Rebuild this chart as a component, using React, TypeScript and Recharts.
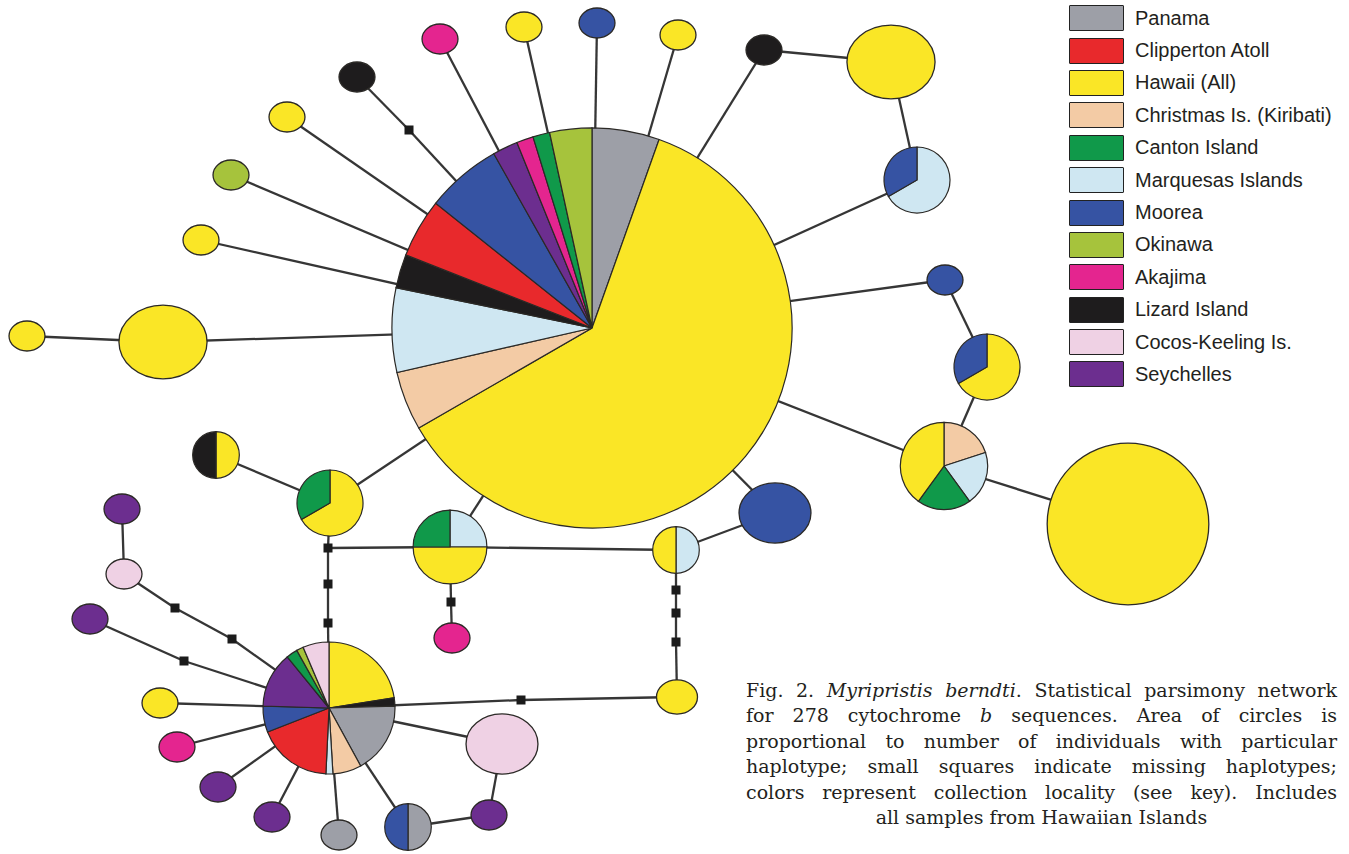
import React from 'react';
import { ScatterChart, Scatter, XAxis, YAxis, Legend, Sector } from 'recharts';

// collection localities (legend order)
const localityKeys = ['PAN', 'CLI', 'HAW', 'CHR', 'CAN', 'MAR', 'MOO', 'OKI', 'AKA', 'LIZ', 'COC', 'SEY'];
const localityLabels = [
  'Panama',
  'Clipperton Atoll',
  'Hawaii (All)',
  'Christmas Is. (Kiribati)',
  'Canton Island',
  'Marquesas Islands',
  'Moorea',
  'Okinawa',
  'Akajima',
  'Lizard Island',
  'Cocos-Keeling Is.',
  'Seychelles',
];
const localityColors = [
  '#9d9fa7', '#e8292c', '#fae626', '#f3cba5', '#10994a', '#cfe7f2',
  '#3653a3', '#a6c33c', '#e4258f', '#1e1c1d', '#efd1e4', '#6c2e8f',
];

// haplotypes: layout position, estimated individuals (n), composition clockwise from 12 o'clock
const haplotypes = [
  { id: 'c0', x: 592, y: 328, n: 147, mix: [['PAN', 8], ['HAW', 90], ['CHR', 7], ['MAR', 10], ['LIZ', 4], ['CLI', 7], ['MOO', 9], ['SEY', 3], ['AKA', 2], ['CAN', 2], ['OKI', 5]] },
  { id: 't1', x: 440, y: 39, n: 1, mix: [['AKA', 1]] },
  { id: 't2', x: 524, y: 27, n: 1, mix: [['HAW', 1]] },
  { id: 't3', x: 597, y: 23, n: 1, mix: [['MOO', 1]] },
  { id: 't4', x: 678, y: 35, n: 1, mix: [['HAW', 1]] },
  { id: 't5', x: 764, y: 50, n: 1, mix: [['LIZ', 1]] },
  { id: 't6', x: 891, y: 62, n: 6, mix: [['HAW', 6]] },
  { id: 't7', x: 917, y: 180, n: 4, mix: [['MAR', 2], ['MOO', 1]] },
  { id: 'l1', x: 357, y: 77, n: 1, mix: [['LIZ', 1]] },
  { id: 'l2', x: 287, y: 117, n: 1, mix: [['HAW', 1]] },
  { id: 'l3', x: 231, y: 175, n: 1, mix: [['OKI', 1]] },
  { id: 'l4', x: 201, y: 240, n: 1, mix: [['HAW', 1]] },
  { id: 'l5', x: 163, y: 342, n: 6, mix: [['HAW', 6]] },
  { id: 'l6', x: 27, y: 336, n: 1, mix: [['HAW', 1]] },
  { id: 'r1', x: 945, y: 280, n: 1, mix: [['MOO', 1]] },
  { id: 'r2', x: 987, y: 367, n: 4, mix: [['HAW', 2], ['MOO', 1]] },
  { id: 'r3', x: 944, y: 466, n: 7, mix: [['CHR', 1], ['MAR', 1], ['CAN', 1], ['HAW', 2]] },
  { id: 'r4', x: 1128, y: 524, n: 24, mix: [['HAW', 24]] },
  { id: 'm1', x: 775, y: 513, n: 4, mix: [['MOO', 4]] },
  { id: 'm2', x: 676, y: 550, n: 2, mix: [['MAR', 1], ['HAW', 1]] },
  { id: 'm3', x: 450, y: 547, n: 5, mix: [['MAR', 1], ['HAW', 2], ['CAN', 1]] },
  { id: 'm4', x: 330, y: 503, n: 4, mix: [['HAW', 2], ['CAN', 1]] },
  { id: 'm5', x: 216, y: 455, n: 2, mix: [['HAW', 1], ['LIZ', 1]] },
  { id: 'm6', x: 452, y: 638, n: 1, mix: [['AKA', 1]] },
  { id: 'm7', x: 677, y: 697, n: 1.3, mix: [['HAW', 1]] },
  { id: 'b0', x: 329, y: 708, n: 16, mix: [['HAW', 22.5], ['LIZ', 2], ['PAN', 17.5], ['CHR', 7], ['MAR', 1.7], ['CLI', 18.3], ['MOO', 6.4], ['SEY', 13.6], ['CAN', 2.8], ['OKI', 1.7], ['COC', 6.4]] },
  { id: 'b1', x: 122, y: 509, n: 1, mix: [['SEY', 1]] },
  { id: 'b2', x: 124, y: 574, n: 1, mix: [['COC', 1]] },
  { id: 'b3', x: 90, y: 619, n: 1, mix: [['SEY', 1]] },
  { id: 'b4', x: 160, y: 703, n: 1, mix: [['HAW', 1]] },
  { id: 'b5', x: 177, y: 747, n: 1, mix: [['AKA', 1]] },
  { id: 'b6', x: 218, y: 787, n: 1, mix: [['SEY', 1]] },
  { id: 'b7', x: 272, y: 817, n: 1, mix: [['SEY', 1]] },
  { id: 'b8', x: 339, y: 835, n: 1, mix: [['PAN', 1]] },
  { id: 'b9', x: 408, y: 827, n: 2, mix: [['PAN', 1], ['MOO', 1]] },
  { id: 'b10', x: 489, y: 815, n: 1, mix: [['SEY', 1]] },
  { id: 'b11', x: 502, y: 744, n: 4, mix: [['COC', 4]] },
];

// missing (unsampled) haplotypes
const missing = [
  { id: 's1', x: 409, y: 130 },
  { id: 's2', x: 328, y: 548 },
  { id: 's3', x: 328, y: 584 },
  { id: 's4', x: 328, y: 623 },
  { id: 's5', x: 451, y: 602 },
  { id: 's6', x: 676, y: 590 },
  { id: 's7', x: 676, y: 613 },
  { id: 's8', x: 676, y: 642 },
  { id: 's9', x: 521, y: 700 },
  { id: 's10', x: 232, y: 639 },
  { id: 's11', x: 175, y: 608 },
  { id: 's12', x: 184, y: 661 },
];

const links = [
  ['c0', 't1'], ['c0', 't2'], ['c0', 't3'], ['c0', 't4'], ['c0', 't5'], ['t5', 't6'], ['t6', 't7'], ['t7', 'c0'],
  ['l1', 's1'], ['s1', 'c0'], ['c0', 'l2'], ['c0', 'l3'], ['c0', 'l4'], ['c0', 'l5'], ['l5', 'l6'],
  ['c0', 'r1'], ['r1', 'r2'], ['r2', 'r3'], ['r3', 'c0'], ['r3', 'r4'],
  ['c0', 'm1'], ['m1', 'm2'], ['m2', 'm3'], ['m3', 'c0'], ['m3', 's2'], ['s2', 'm4'], ['m4', 'c0'], ['m5', 'm4'],
  ['m3', 's5'], ['s5', 'm6'],
  ['m2', 's6'], ['s6', 's7'], ['s7', 's8'], ['s8', 'm7'],
  ['s2', 's3'], ['s3', 's4'], ['s4', 'b0'],
  ['m7', 's9'], ['s9', 'b0'],
  ['b0', 's10'], ['s10', 's11'], ['s11', 'b2'], ['b2', 'b1'],
  ['b0', 's12'], ['s12', 'b3'],
  ['b0', 'b4'], ['b0', 'b5'], ['b0', 'b6'], ['b0', 'b7'], ['b0', 'b8'], ['b0', 'b9'], ['b0', 'b11'], ['b11', 'b10'], ['b10', 'b9'],
];

const captionLines = [
  ['Fig. 2. ', <i key="i">Myripristis berndti</i>, '. Statistical parsimony network'],
  ['for 278 cytochrome ', <i key="i">b</i>, ' sequences. Area of circles is'],
  ['proportional to number of individuals with particular'],
  ['haplotype; small squares indicate missing haplotypes;'],
  ['colors represent collection locality (see key). Includes'],
  ['all samples from Hawaiian Islands'],
];

const W = 1349;
const H = 854;
const R1 = 16.5; // radius of a one-individual circle
const OUTLINE = '#2b2926';

const colorOf = (key: string) => localityColors[localityKeys.indexOf(key)];

const allNodes: { id: string; x: number; y: number }[] = [...haplotypes, ...missing];
const pos = (id: string) => {
  const p = allNodes.find((d) => d.id === id)!;
  return { x: p.x, y: p.y };
};

function HaplotypeShape(props: any) {
  const { cx, cy, payload } = props;
  const r = R1 * Math.sqrt(payload.n);
  const mix: [string, number][] = payload.mix;
  if (mix.length === 1) {
    const sx = payload.n <= 6 ? 1.09 : 1;
    const sy = payload.n <= 6 ? 0.91 : 1;
    return (
      <ellipse cx={cx} cy={cy} rx={r * sx} ry={r * sy} fill={colorOf(mix[0][0])} stroke={OUTLINE} strokeWidth={1.3} />
    );
  }
  const total = mix.reduce((s, m) => s + m[1], 0);
  let acc = 0;
  return (
    <g>
      {mix.map(([key, w], i) => {
        const start = 90 - (acc / total) * 360;
        acc += w;
        const end = 90 - (acc / total) * 360;
        return (
          <Sector
            key={i}
            cx={cx}
            cy={cy}
            innerRadius={0}
            outerRadius={r}
            startAngle={start}
            endAngle={end}
            fill={colorOf(key)}
            stroke={OUTLINE}
            strokeWidth={1.2}
          />
        );
      })}
    </g>
  );
}

function MissingShape(props: any) {
  const { cx, cy } = props;
  return <rect x={cx - 4.5} y={cy - 4.5} width={9} height={9} fill="#1b1b1b" />;
}

function KeyContent() {
  return (
    <div style={{ fontFamily: 'Liberation Sans, Arial, sans-serif', fontSize: 20, color: '#231f20' }}>
      {localityLabels.map((label, i) => (
        <div key={label} style={{ display: 'flex', alignItems: 'center', height: 32.4 }}>
          <div
            style={{
              width: 53,
              height: 24,
              background: localityColors[i],
              border: '1.6px solid #222',
              borderRadius: 1,
              marginRight: 11,
              flexShrink: 0,
            }}
          />
          <span style={{ whiteSpace: 'nowrap' }}>{label}</span>
        </div>
      ))}
    </div>
  );
}

export default function App() {
  return (
    <div style={{ position: 'absolute', left: 0, top: 0, width: W, height: H, background: '#fff' }}>
      <ScatterChart width={W} height={H} margin={{ top: 0, right: 0, bottom: 0, left: 0 }}>
        <XAxis type="number" dataKey="x" domain={[0, W]} allowDataOverflow hide />
        <YAxis type="number" dataKey="y" domain={[0, H]} allowDataOverflow reversed hide />
        {links.map(([a, b], i) => (
          <Scatter
            key={`link-${i}`}
            data={[pos(a), pos(b)]}
            line={{ stroke: '#363636', strokeWidth: 2.3 }}
            shape={() => <g />}
            legendType="none"
            isAnimationActive={false}
          />
        ))}
        <Scatter data={missing} shape={MissingShape} legendType="none" isAnimationActive={false} />
        <Scatter data={haplotypes} shape={HaplotypeShape} legendType="none" isAnimationActive={false} />
        <Legend
          layout="vertical"
          align="center"
          verticalAlign="middle"
          wrapperStyle={{ left: 1069, top: 2, width: 280 }}
          content={KeyContent}
        />
      </ScatterChart>
      <div
        style={{
          position: 'absolute',
          left: 746,
          top: 678,
          width: 591,
          fontFamily: 'DejaVu Serif, serif',
          fontSize: 19,
          lineHeight: '25.4px',
          color: '#231f20',
        }}
      >
        {captionLines.map((line, i) => (
          <div
            key={i}
            style={{
              textAlign: 'justify',
              textAlignLast: i === captionLines.length - 1 ? 'center' : 'justify',
              whiteSpace: 'nowrap',
            }}
          >
            {line}
          </div>
        ))}
      </div>
    </div>
  );
}
